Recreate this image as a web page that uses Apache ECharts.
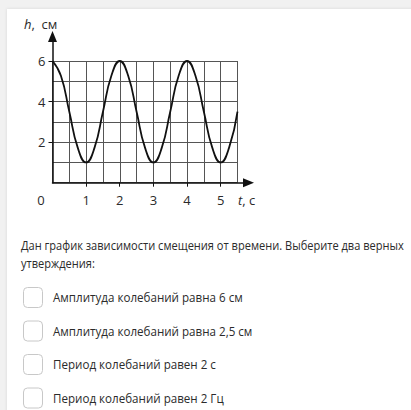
<!DOCTYPE html>
<html><head><meta charset="utf-8">
<script src="https://cdn.jsdelivr.net/npm/echarts@6/dist/echarts.min.js"></script>
<style>html,body{margin:0;padding:0;background:#f1f1f1}#c{width:411px;height:410px}</style>
</head><body><div id="c"></div>
<script>
const times = [0,0.25,0.5,0.75,1,1.25,1.5,1.75,2,2.25,2.5,2.75,3,3.25,3.5,3.75,4,4.25,4.5,4.75,5,5.25,5.5];
const heights = [6,5.27,3.5,1.73,1,1.73,3.5,5.27,6,5.27,3.5,1.73,1,1.73,3.5,5.27,6,5.27,3.5,1.73,1,1.73,3.5];
const xTicks = [1,2,3,4,5];
const yTicks = [2,4,6];
const question = ['Дан график зависимости смещения от времени. Выберите два верных', 'утверждения:'];
const options = ['Амплитуда колебаний равна 6 см','Амплитуда колебаний равна 2,5 см','Период колебаний равен 2 с','Период колебаний равен 2 Гц'];

const font = '"Open Sans", sans-serif';
const chart = echarts.init(document.getElementById('c'), null, {renderer:'svg'});
const gridCol = '#555';
const txtCol = '#2b2b2b';
const graphics = [
  {type:'rect', shape:{x:7,y:9,width:420,height:420}, style:{fill:'#fff', shadowBlur:3, shadowColor:'rgba(0,0,0,0.12)'}, z:-10, silent:true},
  {type:'text', x:41, y:200, style:{text:'0', font:'13px '+font, fill:txtCol, align:'center', verticalAlign:'middle'}},
  {type:'text', x:238, y:200, style:{text:'{i|t}{n|, с}', rich:{i:{fontStyle:'italic',fontFamily:font,fontSize:13,fill:txtCol},n:{fontFamily:font,fontSize:13,fill:txtCol}}, verticalAlign:'middle'}},
  {type:'text', x:24, y:24, style:{text:'{i|h}{n|,  см}', rich:{i:{fontStyle:'italic',fontFamily:font,fontSize:13,fill:txtCol},n:{fontFamily:font,fontSize:13,fill:txtCol}}, verticalAlign:'middle'}}
];
question.forEach((t,i)=>graphics.push({type:'text', x:21, y:245+i*18.5, scaleX:0.82, style:{text:t, font:'13.5px '+font, fill:txtCol, verticalAlign:'middle'}}));
options.forEach((t,i)=>{
  const cy = 297.5 + i*33.5;
  graphics.push({type:'rect', shape:{x:23.5,y:cy-10,width:19,height:20,r:4}, style:{fill:'#fff', stroke:'#c8c8c8', lineWidth:1}});
  graphics.push({type:'text', x:53, y:cy, scaleX:0.86, style:{text:t, font:'13.5px '+font, fill:txtCol, verticalAlign:'middle'}});
});

chart.setOption({
  animation:false,
  backgroundColor:'transparent',
  grid:[
    {left:52.5, top:61, width:185, height:121.7},
    {left:52.5, top:36.5, width:196, height:146.2}
  ],
  xAxis:[
    {gridIndex:0, type:'value', min:0, max:5.5, interval:0.5, axisLine:{show:false}, axisTick:{show:false}, axisLabel:{show:false}, splitLine:{show:true, lineStyle:{color:gridCol, width:1}}},
    {gridIndex:1, type:'value', min:0, max:5.83, interval:1, splitLine:{show:false},
     axisLine:{show:true, lineStyle:{color:'#111', width:1.5}, symbol:['none','triangle'], symbolSize:[9,11], symbolOffset:[0,0]},
     axisTick:{show:true, customValues:xTicks, length:4, inside:false, lineStyle:{color:'#111'}},
     axisLabel:{show:true, customValues:xTicks, margin:11, fontFamily:font, fontSize:13, color:txtCol}}
  ],
  yAxis:[
    {gridIndex:0, type:'value', min:0, max:6, interval:1, axisLine:{show:false}, axisTick:{show:false}, axisLabel:{show:false}, splitLine:{show:true, lineStyle:{color:gridCol, width:1}}},
    {gridIndex:1, type:'value', min:0, max:7.21, interval:1, splitLine:{show:false},
     axisLine:{show:true, lineStyle:{color:'#111', width:1.5}, symbol:['none','triangle'], symbolSize:[9,11], symbolOffset:[0,0]},
     axisTick:{show:true, customValues:yTicks, length:4, lineStyle:{color:'#111'}},
     axisLabel:{show:true, customValues:yTicks, margin:7, fontFamily:font, fontSize:13, color:txtCol}}
  ],
  series:[{
    type:'line', xAxisIndex:0, yAxisIndex:0, smooth:0.5, symbol:'none',
    lineStyle:{color:'#111', width:1.8},
    data: times.map((t,i)=>[t, heights[i]])
  }],
  graphic: graphics
});
</script></body></html>
